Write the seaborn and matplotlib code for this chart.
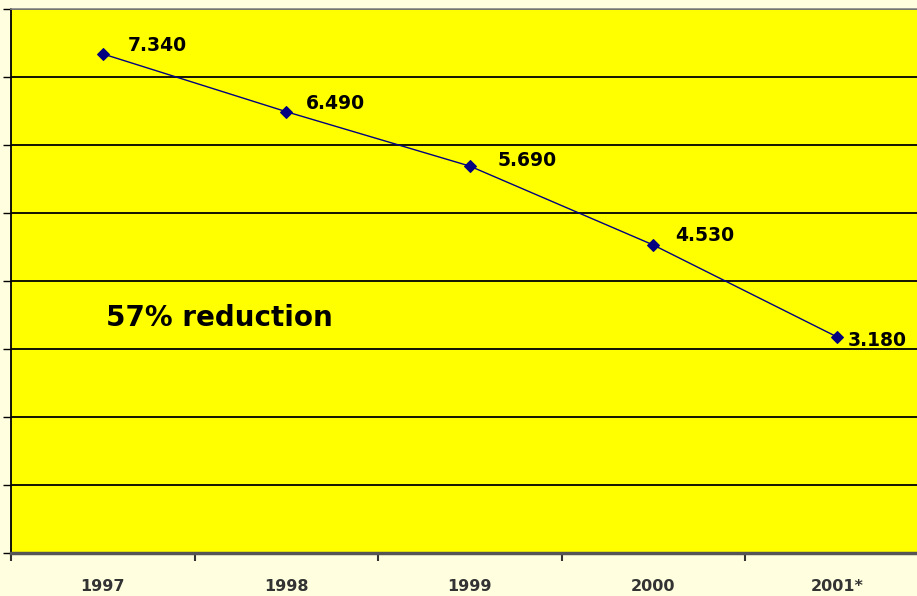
import matplotlib
matplotlib.use("Agg")
import matplotlib.pyplot as plt
import seaborn as sns
import pandas as pd

years = ["1997", "1998", "1999", "2000", "2001*"]
values = [7340, 6490, 5690, 4530, 3180]
value_labels = ["7.340", "6.490", "5.690", "4.530", "3.180"]
note = "57% reduction"

df = pd.DataFrame({"year": years, "value": values})

sns.set_style("white")
plt.rcParams["font.family"] = ["DejaVu Sans"]

fig = plt.figure(figsize=(9.17, 5.96), dpi=100, facecolor="#FFFFE0")
ax = fig.add_axes([11 / 917, 43 / 596, 917.5 / 917, 544 / 596])
ax.set_facecolor("#FFFF00")

sns.lineplot(data=df, x="year", y="value", ax=ax, color="#000080",
             marker="D", markersize=6, markeredgecolor="#000080",
             linewidth=1.0, sort=False, zorder=3)

ax.set_xlim(-0.5, len(years) - 0.5)
ax.set_ylim(0, 8000)

# horizontal grid
ax.set_yticks(range(0, 8001, 1000))
ax.yaxis.grid(True, color="black", linewidth=1.3)
ax.set_axisbelow(True)
ax.set_yticklabels([])
ax.tick_params(axis="y", direction="out", length=6, width=1, color="black", left=True)

# ticks at category boundaries, labels at centers
ax.set_xticks([i - 0.5 for i in range(len(years) + 1)])
ax.set_xticklabels([])
ax.tick_params(axis="x", which="major", direction="out", length=6, width=1.5,
               color="#333333", bottom=True)
ax.set_xticks(range(len(years)), minor=True)
ax.set_xticklabels(years, minor=True, fontsize=11.5, fontweight="bold", color="#333333")
ax.tick_params(axis="x", which="minor", length=0, pad=19)
ax.set_xlabel("")
ax.set_ylabel("")

ax.spines["left"].set_color("black")
ax.spines["left"].set_linewidth(1.3)
ax.spines["bottom"].set_color("#555555")
ax.spines["bottom"].set_linewidth(2.5)
ax.spines["top"].set_color("#888888")
ax.spines["top"].set_linewidth(1.2)
ax.spines["right"].set_visible(False)

offsets = [(18, 6), (14, 6), (20, 4), (16, 7), (8, -3)]
for i, (lab, v) in enumerate(zip(value_labels, values)):
    ax.annotate(lab, (i, v), xytext=offsets[i], textcoords="offset points",
                fontsize=13.5, fontweight="bold", color="black",
                ha="left", va="center", zorder=4)

ax.text(0.02, 3450, note, fontsize=20, fontweight="bold", color="black",
        ha="left", va="center")

fig.savefig("out.png", dpi=100, facecolor=fig.get_facecolor())
